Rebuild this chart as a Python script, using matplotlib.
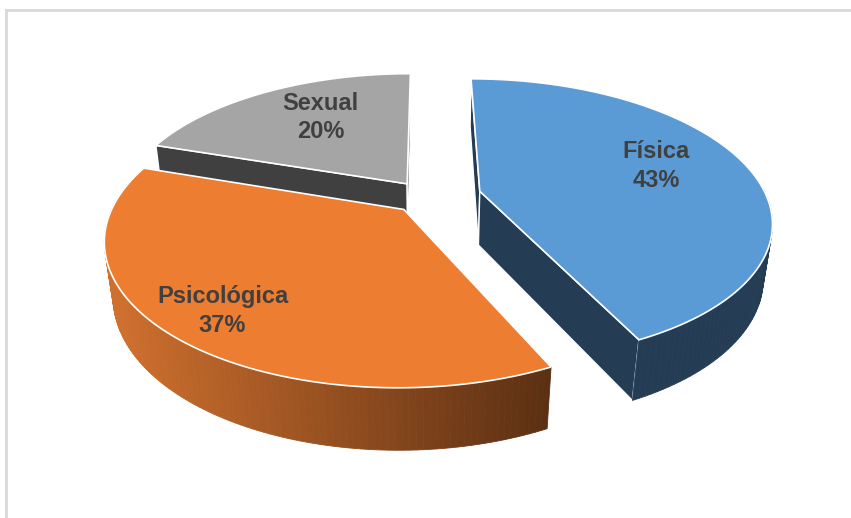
import numpy as np
import matplotlib
matplotlib.use("Agg")
from matplotlib import pyplot as plt
from matplotlib.patches import Polygon
from matplotlib.lines import Line2D

# data
labels = ["Física", "Psicológica", "Sexual"]
values = [43, 37, 20]
top_colors = ["#5b9bd5", "#ed7d31", "#a5a5a5"]
side_colors = ["#243d55", "#7a3f17", "#404040"]
explode = [0.19, 0.12, 0.12]

# 3d view settings
elev = np.radians(31)
D = 4.4          # camera distance
F = 1230.0       # focal scale (px)
H = 0.22         # pie thickness
cx, cy = 427.0, 251.0
label_r = [0.68, 0.82, 0.66]
label_dang = [-4, -1, 4]


def proj(x, y, z):
    v = z * np.cos(elev) + y * np.sin(elev)
    w = D + y * np.cos(elev) - z * np.sin(elev)
    return cx + F * x / w, cy - F * v / w


def lerp_col(c1, c2, t):
    a = np.array(matplotlib.colors.to_rgb(c1))
    b = np.array(matplotlib.colors.to_rgb(c2))
    return tuple(a + (b - a) * t)


fig = plt.figure(figsize=(8.51, 5.18), dpi=100)
ax = fig.add_axes([0, 0, 1, 1])
ax.set_xlim(0, 851)
ax.set_ylim(518, 0)
ax.axis("off")

# frame lines of the chart area
fig.add_artist(Line2D([6 / 851, 1], [1 - 10 / 518, 1 - 10 / 518], color="#d9d9d9", lw=2))
fig.add_artist(Line2D([6 / 851, 6 / 851], [0, 1 - 10 / 518], color="#d9d9d9", lw=2))

total = sum(values)
starts = np.cumsum([0] + values[:-1]) / total * 360
ends = np.cumsum(values) / total * 360

slices = []
for i in range(len(values)):
    a0, a1 = np.radians(starts[i]), np.radians(ends[i])
    mid = (a0 + a1) / 2
    ox, oy = explode[i] * np.sin(mid), explode[i] * np.cos(mid)
    slices.append((i, a0, a1, mid, ox, oy))

# draw back slices first
order = sorted(slices, key=lambda s: -s[5])

for i, a0, a1, mid, ox, oy in order:
    th = np.linspace(a0, a1, 120)
    px = ox + np.sin(th)
    py = oy + np.cos(th)
    # radial walls
    for ang, sgn in [(a0, -1), (a1, 1)]:
        nx, ny = np.sin(ang + sgn * np.pi / 2), np.cos(ang + sgn * np.pi / 2)
        camx, camy = 0.0, -D * np.cos(elev)
        ex, ey = ox - camx, oy - camy
        if nx * ex + ny * ey < 0:
            ex_, ey_ = ox + np.sin(ang), oy + np.cos(ang)
            pts = [proj(ox, oy, H), proj(ex_, ey_, H), proj(ex_, ey_, 0), proj(ox, oy, 0)]
            ax.add_patch(Polygon(pts, closed=True, fc=side_colors[i], ec="white", lw=1.0, zorder=1))
    # outer wall, only front facing part
    for k in range(len(th) - 1):
        tm = (th[k] + th[k + 1]) / 2
        if np.cos(tm) > 0.05:
            continue
        x0, y0, x1, y1 = px[k], py[k], px[k + 1], py[k + 1]
        pts = [proj(x0, y0, H), proj(x1, y1, H), proj(x1, y1, 0), proj(x0, y0, 0)]
        if i == 1:
            sx = proj(x0, y0, H)[0]
            t = np.clip((sx - 110) / 440, 0, 1)
            col = lerp_col("#d0702e", "#5c3013", t)
        else:
            col = side_colors[i]
        ax.add_patch(Polygon(pts, closed=True, fc=col, ec=col, lw=0.6, zorder=1))
    # top face
    top = [proj(ox, oy, H)] + [proj(a, b, H) for a, b in zip(px, py)]
    ax.add_patch(Polygon(top, closed=True, fc=top_colors[i], ec="white", lw=1.2, zorder=1))

for i, a0, a1, mid, ox, oy in slices:
    ang = mid + np.radians(label_dang[i])
    lx, ly = proj(ox + label_r[i] * np.sin(ang), oy + label_r[i] * np.cos(ang), H)
    ax.text(lx, ly, "%s\n%d%%" % (labels[i], values[i]), ha="center", va="center",
            fontsize=17, fontweight="bold", color="#404040", family="Liberation Sans",
            linespacing=1.3, zorder=3)

fig.savefig("out.png", dpi=100)
